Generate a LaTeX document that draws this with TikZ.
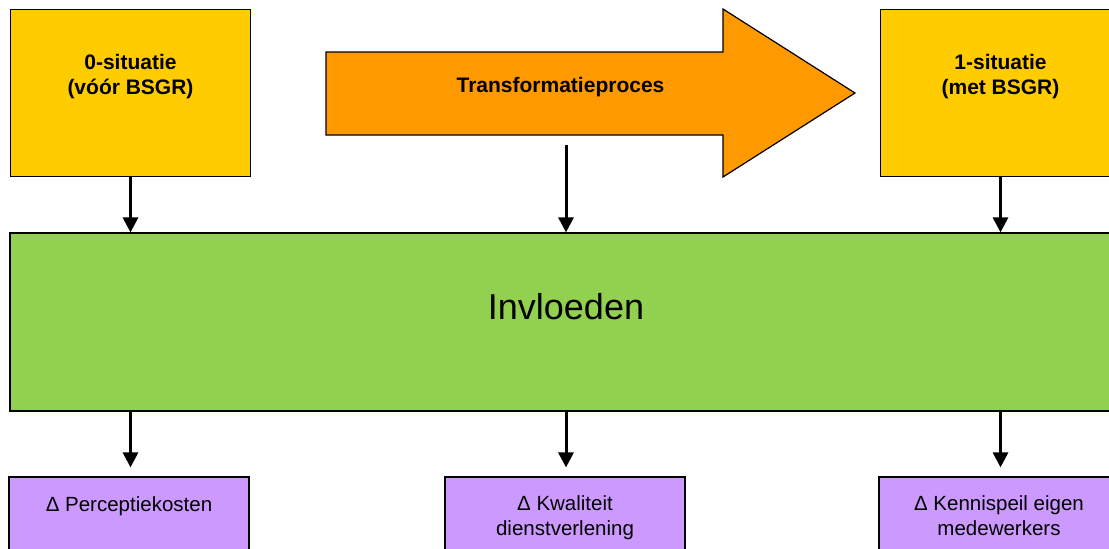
\documentclass[tikz,border=0pt]{standalone}
\usepackage{fontspec}
\setmainfont{Liberation Sans}
\usetikzlibrary{arrows.meta,calc}
\definecolor{yellowc}{HTML}{FFCC00}
\definecolor{orangec}{HTML}{FF9900}
\definecolor{greenc}{HTML}{92D050}
\definecolor{purplec}{HTML}{CC99FF}
\begin{document}
\begin{tikzpicture}[x=1pt,y=-1pt,
  box/.style={draw=black, line width=1.2pt, rectangle, inner sep=0pt},
  ybox/.style={box, fill=yellowc, minimum width=240pt, minimum height=167.5pt},
  pbox/.style={box, fill=purplec, minimum width=240pt, minimum height=100pt},
  btext/.style={align=center, inner sep=0pt, font=\fontsize{21}{24.5}\selectfont\bfseries},
  ptext/.style={align=center, inner sep=0pt, font=\fontsize{20.5}{24.5}\selectfont},
  conn/.style={line width=3pt, -{Triangle[length=15pt,width=15pt]}}]
\clip (0,0) rectangle (1109,549);
% top boxes
\node[ybox] (s0) at (130.5,93) {};
\node[ybox] (s1) at (1000.5,93) {};
\node[btext, anchor=base] (t0) at (130.5,94) {0-situatie\\(vóór BSGR)};
\node[btext, anchor=base] (t1) at (1000.5,94) {1-situatie\\(met BSGR)};
% orange arrow
\draw[fill=orangec, line width=1.2pt, line join=miter]
  (326,52) -- (723,52) -- (723,9) -- (855,93) -- (723,177) -- (723,135) -- (326,135) -- cycle;
\node[btext, anchor=base] (tp) at (560.5,92) {Transformatieproces};
\coordinate (tpout) at (566,145);
% central box
\node[box, fill=greenc, minimum width=1112pt, minimum height=178pt] (inv) at (566,322) {};
\node[inner sep=0pt, anchor=base, font=\fontsize{36}{40}\selectfont] (invt) at (566,319) {Invloeden};
% bottom boxes
\node[pbox] (p0) at (129,527) {};
\node[pbox] (p1) at (565,527) {};
\node[pbox] (p2) at (999,527) {};
\node[ptext, anchor=base] (q0) at (129,511) {Δ Perceptiekosten};
\node[ptext, anchor=base] (q1) at (565,535) {Δ Kwaliteit\\dienstverlening};
\node[ptext, anchor=base] (q2) at (999,535) {Δ Kennispeil eigen\\medewerkers};
% connectors
\draw[conn] (s0.south) -- (s0.south |- inv.north);
\draw[conn] (tpout) -- (tpout |- inv.north);
\draw[conn] (s1.south) -- (s1.south |- inv.north);
\draw[conn, shorten >=9pt] (s0.south |- inv.south) -- (s0.south |- p0.north);
\draw[conn, shorten >=9pt] (tpout |- inv.south) -- (tpout |- p1.north);
\draw[conn, shorten >=9pt] (s1.south |- inv.south) -- (s1.south |- p2.north);
\end{tikzpicture}
\end{document}
